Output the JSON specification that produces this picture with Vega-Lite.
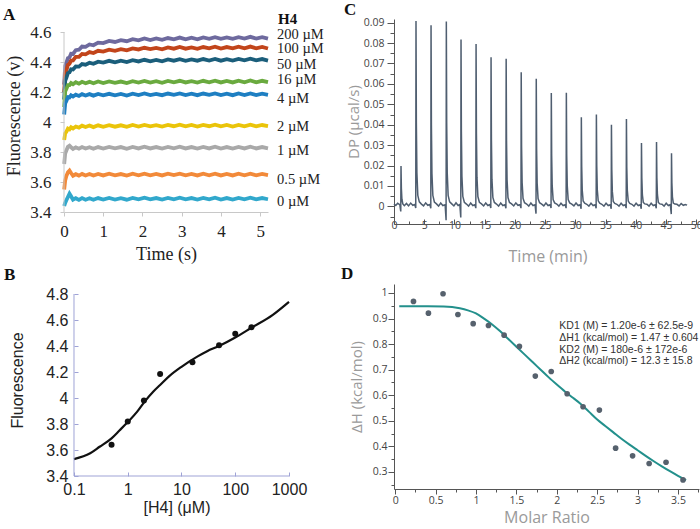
{
"$schema": "https://vega.github.io/schema/vega-lite/v6.json",
"background": "white",
"padding": {"left": 2, "top": 1, "right": 0, "bottom": 0},
"config": {"view": {"stroke": null}, "axis": {"grid": false, "labelFlush": false, "labelOverlap": false, "titleFontWeight": "normal", "tickCount": 1000}},
"columns": 2,
"spacing": {"row": 60, "column": 105},
"bounds": "flush",
"align": "each",
"datasets": {
"tr": [
{"s":"200","t":0.005,"v":4.25},{"s":"200","t":0.03,"v":4.374},{"s":"200","t":0.06,"v":4.395},{"s":"200","t":0.1,"v":4.426},{"s":"200","t":0.14,"v":4.431},{"s":"200","t":0.18,"v":4.455},{"s":"200","t":0.23,"v":4.454},{"s":"200","t":0.3,"v":4.479},{"s":"200","t":0.38,"v":4.482},{"s":"200","t":0.46,"v":4.503},{"s":"200","t":0.55,"v":4.501},{"s":"200","t":0.65,"v":4.517},{"s":"200","t":0.75,"v":4.512},{"s":"200","t":0.87,"v":4.529},{"s":"200","t":1.0,"v":4.526},{"s":"200","t":1.15,"v":4.541},{"s":"200","t":1.3,"v":4.534},{"s":"200","t":1.45,"v":4.546},{"s":"200","t":1.6,"v":4.539},{"s":"200","t":1.75,"v":4.552},{"s":"200","t":1.9,"v":4.545},{"s":"200","t":2.05,"v":4.557},{"s":"200","t":2.2,"v":4.547},{"s":"200","t":2.35,"v":4.557},{"s":"200","t":2.5,"v":4.548},{"s":"200","t":2.65,"v":4.56},{"s":"200","t":2.8,"v":4.552},{"s":"200","t":2.95,"v":4.563},{"s":"200","t":3.1,"v":4.552},{"s":"200","t":3.25,"v":4.562},{"s":"200","t":3.4,"v":4.552},{"s":"200","t":3.55,"v":4.564},{"s":"200","t":3.7,"v":4.555},{"s":"200","t":3.85,"v":4.566},{"s":"200","t":4.0,"v":4.555},{"s":"200","t":4.15,"v":4.564},{"s":"200","t":4.3,"v":4.555},{"s":"200","t":4.45,"v":4.566},{"s":"200","t":4.6,"v":4.557},{"s":"200","t":4.75,"v":4.568},{"s":"200","t":4.9,"v":4.557},{"s":"200","t":5.05,"v":4.566},{"s":"200","t":5.2,"v":4.556},
{"s":"100","t":0.005,"v":4.2},{"s":"100","t":0.03,"v":4.324},{"s":"100","t":0.06,"v":4.345},{"s":"100","t":0.1,"v":4.381},{"s":"100","t":0.14,"v":4.389},{"s":"100","t":0.18,"v":4.41},{"s":"100","t":0.23,"v":4.411},{"s":"100","t":0.3,"v":4.434},{"s":"100","t":0.38,"v":4.435},{"s":"100","t":0.46,"v":4.454},{"s":"100","t":0.55,"v":4.451},{"s":"100","t":0.65,"v":4.466},{"s":"100","t":0.75,"v":4.46},{"s":"100","t":0.87,"v":4.475},{"s":"100","t":1.0,"v":4.47},{"s":"100","t":1.15,"v":4.483},{"s":"100","t":1.3,"v":4.475},{"s":"100","t":1.45,"v":4.486},{"s":"100","t":1.6,"v":4.478},{"s":"100","t":1.75,"v":4.491},{"s":"100","t":1.9,"v":4.484},{"s":"100","t":2.05,"v":4.495},{"s":"100","t":2.2,"v":4.486},{"s":"100","t":2.35,"v":4.494},{"s":"100","t":2.5,"v":4.485},{"s":"100","t":2.65,"v":4.497},{"s":"100","t":2.8,"v":4.489},{"s":"100","t":2.95,"v":4.5},{"s":"100","t":3.1,"v":4.489},{"s":"100","t":3.25,"v":4.498},{"s":"100","t":3.4,"v":4.488},{"s":"100","t":3.55,"v":4.5},{"s":"100","t":3.7,"v":4.491},{"s":"100","t":3.85,"v":4.502},{"s":"100","t":4.0,"v":4.49},{"s":"100","t":4.15,"v":4.5},{"s":"100","t":4.3,"v":4.491},{"s":"100","t":4.45,"v":4.502},{"s":"100","t":4.6,"v":4.492},{"s":"100","t":4.75,"v":4.503},{"s":"100","t":4.9,"v":4.492},{"s":"100","t":5.05,"v":4.501},{"s":"100","t":5.2,"v":4.49},
{"s":"50","t":0.005,"v":4.15},{"s":"50","t":0.03,"v":4.275},{"s":"50","t":0.06,"v":4.295},{"s":"50","t":0.1,"v":4.326},{"s":"50","t":0.14,"v":4.331},{"s":"50","t":0.18,"v":4.352},{"s":"50","t":0.23,"v":4.35},{"s":"50","t":0.3,"v":4.37},{"s":"50","t":0.38,"v":4.369},{"s":"50","t":0.46,"v":4.386},{"s":"50","t":0.55,"v":4.382},{"s":"50","t":0.65,"v":4.395},{"s":"50","t":0.75,"v":4.388},{"s":"50","t":0.87,"v":4.402},{"s":"50","t":1.0,"v":4.396},{"s":"50","t":1.15,"v":4.408},{"s":"50","t":1.3,"v":4.398},{"s":"50","t":1.45,"v":4.409},{"s":"50","t":1.6,"v":4.4},{"s":"50","t":1.75,"v":4.412},{"s":"50","t":1.9,"v":4.404},{"s":"50","t":2.05,"v":4.415},{"s":"50","t":2.2,"v":4.405},{"s":"50","t":2.35,"v":4.414},{"s":"50","t":2.5,"v":4.405},{"s":"50","t":2.65,"v":4.417},{"s":"50","t":2.8,"v":4.409},{"s":"50","t":2.95,"v":4.419},{"s":"50","t":3.1,"v":4.408},{"s":"50","t":3.25,"v":4.418},{"s":"50","t":3.4,"v":4.409},{"s":"50","t":3.55,"v":4.42},{"s":"50","t":3.7,"v":4.41},{"s":"50","t":3.85,"v":4.421},{"s":"50","t":4.0,"v":4.409},{"s":"50","t":4.15,"v":4.419},{"s":"50","t":4.3,"v":4.41},{"s":"50","t":4.45,"v":4.421},{"s":"50","t":4.6,"v":4.411},{"s":"50","t":4.75,"v":4.422},{"s":"50","t":4.9,"v":4.411},{"s":"50","t":5.05,"v":4.42},{"s":"50","t":5.2,"v":4.41},
{"s":"16","t":0.005,"v":4.1},{"s":"16","t":0.03,"v":4.205},{"s":"16","t":0.06,"v":4.22},{"s":"16","t":0.1,"v":4.246},{"s":"16","t":0.14,"v":4.246},{"s":"16","t":0.18,"v":4.26},{"s":"16","t":0.23,"v":4.252},{"s":"16","t":0.3,"v":4.265},{"s":"16","t":0.38,"v":4.256},{"s":"16","t":0.46,"v":4.268},{"s":"16","t":0.55,"v":4.259},{"s":"16","t":0.65,"v":4.268},{"s":"16","t":0.75,"v":4.258},{"s":"16","t":0.87,"v":4.27},{"s":"16","t":1.0,"v":4.26},{"s":"16","t":1.15,"v":4.271},{"s":"16","t":1.3,"v":4.261},{"s":"16","t":1.45,"v":4.27},{"s":"16","t":1.6,"v":4.26},{"s":"16","t":1.75,"v":4.272},{"s":"16","t":1.9,"v":4.263},{"s":"16","t":2.05,"v":4.274},{"s":"16","t":2.2,"v":4.263},{"s":"16","t":2.35,"v":4.272},{"s":"16","t":2.5,"v":4.262},{"s":"16","t":2.65,"v":4.274},{"s":"16","t":2.8,"v":4.265},{"s":"16","t":2.95,"v":4.275},{"s":"16","t":3.1,"v":4.264},{"s":"16","t":3.25,"v":4.273},{"s":"16","t":3.4,"v":4.263},{"s":"16","t":3.55,"v":4.275},{"s":"16","t":3.7,"v":4.265},{"s":"16","t":3.85,"v":4.276},{"s":"16","t":4.0,"v":4.264},{"s":"16","t":4.15,"v":4.274},{"s":"16","t":4.3,"v":4.264},{"s":"16","t":4.45,"v":4.276},{"s":"16","t":4.6,"v":4.265},{"s":"16","t":4.75,"v":4.277},{"s":"16","t":4.9,"v":4.265},{"s":"16","t":5.05,"v":4.275},{"s":"16","t":5.2,"v":4.266},
{"s":"4","t":0.005,"v":4.05},{"s":"4","t":0.03,"v":4.124},{"s":"4","t":0.06,"v":4.14},{"s":"4","t":0.1,"v":4.166},{"s":"4","t":0.14,"v":4.164},{"s":"4","t":0.18,"v":4.178},{"s":"4","t":0.23,"v":4.17},{"s":"4","t":0.3,"v":4.182},{"s":"4","t":0.38,"v":4.174},{"s":"4","t":0.46,"v":4.186},{"s":"4","t":0.55,"v":4.177},{"s":"4","t":0.65,"v":4.186},{"s":"4","t":0.75,"v":4.176},{"s":"4","t":0.87,"v":4.187},{"s":"4","t":1.0,"v":4.178},{"s":"4","t":1.15,"v":4.188},{"s":"4","t":1.3,"v":4.178},{"s":"4","t":1.45,"v":4.187},{"s":"4","t":1.6,"v":4.177},{"s":"4","t":1.75,"v":4.189},{"s":"4","t":1.9,"v":4.18},{"s":"4","t":2.05,"v":4.19},{"s":"4","t":2.2,"v":4.18},{"s":"4","t":2.35,"v":4.188},{"s":"4","t":2.5,"v":4.179},{"s":"4","t":2.65,"v":4.19},{"s":"4","t":2.8,"v":4.181},{"s":"4","t":2.95,"v":4.191},{"s":"4","t":3.1,"v":4.18},{"s":"4","t":3.25,"v":4.189},{"s":"4","t":3.4,"v":4.179},{"s":"4","t":3.55,"v":4.19},{"s":"4","t":3.7,"v":4.181},{"s":"4","t":3.85,"v":4.191},{"s":"4","t":4.0,"v":4.18},{"s":"4","t":4.15,"v":4.189},{"s":"4","t":4.3,"v":4.179},{"s":"4","t":4.45,"v":4.19},{"s":"4","t":4.6,"v":4.18},{"s":"4","t":4.75,"v":4.191},{"s":"4","t":4.9,"v":4.18},{"s":"4","t":5.05,"v":4.189},{"s":"4","t":5.2,"v":4.181},
{"s":"2","t":0.005,"v":3.88},{"s":"2","t":0.03,"v":3.924},{"s":"2","t":0.06,"v":3.935},{"s":"2","t":0.1,"v":3.956},{"s":"2","t":0.14,"v":3.951},{"s":"2","t":0.18,"v":3.965},{"s":"2","t":0.23,"v":3.957},{"s":"2","t":0.3,"v":3.97},{"s":"2","t":0.38,"v":3.963},{"s":"2","t":0.46,"v":3.976},{"s":"2","t":0.55,"v":3.967},{"s":"2","t":0.65,"v":3.977},{"s":"2","t":0.75,"v":3.966},{"s":"2","t":0.87,"v":3.978},{"s":"2","t":1.0,"v":3.968},{"s":"2","t":1.15,"v":3.979},{"s":"2","t":1.3,"v":3.969},{"s":"2","t":1.45,"v":3.978},{"s":"2","t":1.6,"v":3.968},{"s":"2","t":1.75,"v":3.98},{"s":"2","t":1.9,"v":3.97},{"s":"2","t":2.05,"v":3.981},{"s":"2","t":2.2,"v":3.971},{"s":"2","t":2.35,"v":3.979},{"s":"2","t":2.5,"v":3.97},{"s":"2","t":2.65,"v":3.981},{"s":"2","t":2.8,"v":3.972},{"s":"2","t":2.95,"v":3.982},{"s":"2","t":3.1,"v":3.971},{"s":"2","t":3.25,"v":3.98},{"s":"2","t":3.4,"v":3.97},{"s":"2","t":3.55,"v":3.981},{"s":"2","t":3.7,"v":3.972},{"s":"2","t":3.85,"v":3.982},{"s":"2","t":4.0,"v":3.971},{"s":"2","t":4.15,"v":3.98},{"s":"2","t":4.3,"v":3.97},{"s":"2","t":4.45,"v":3.981},{"s":"2","t":4.6,"v":3.971},{"s":"2","t":4.75,"v":3.982},{"s":"2","t":4.9,"v":3.971},{"s":"2","t":5.05,"v":3.98},{"s":"2","t":5.2,"v":3.972},
{"s":"1","t":0.005,"v":3.72},{"s":"1","t":0.03,"v":3.79},{"s":"1","t":0.06,"v":3.81},{"s":"1","t":0.1,"v":3.835},{"s":"1","t":0.14,"v":3.842},{"s":"1","t":0.18,"v":3.832},{"s":"1","t":0.23,"v":3.821},{"s":"1","t":0.3,"v":3.831},{"s":"1","t":0.38,"v":3.822},{"s":"1","t":0.46,"v":3.833},{"s":"1","t":0.55,"v":3.823},{"s":"1","t":0.65,"v":3.832},{"s":"1","t":0.75,"v":3.822},{"s":"1","t":0.87,"v":3.833},{"s":"1","t":1.0,"v":3.823},{"s":"1","t":1.15,"v":3.834},{"s":"1","t":1.3,"v":3.824},{"s":"1","t":1.45,"v":3.833},{"s":"1","t":1.6,"v":3.822},{"s":"1","t":1.75,"v":3.834},{"s":"1","t":1.9,"v":3.824},{"s":"1","t":2.05,"v":3.835},{"s":"1","t":2.2,"v":3.824},{"s":"1","t":2.35,"v":3.833},{"s":"1","t":2.5,"v":3.823},{"s":"1","t":2.65,"v":3.834},{"s":"1","t":2.8,"v":3.825},{"s":"1","t":2.95,"v":3.835},{"s":"1","t":3.1,"v":3.824},{"s":"1","t":3.25,"v":3.833},{"s":"1","t":3.4,"v":3.823},{"s":"1","t":3.55,"v":3.834},{"s":"1","t":3.7,"v":3.824},{"s":"1","t":3.85,"v":3.835},{"s":"1","t":4.0,"v":3.823},{"s":"1","t":4.15,"v":3.833},{"s":"1","t":4.3,"v":3.823},{"s":"1","t":4.45,"v":3.834},{"s":"1","t":4.6,"v":3.824},{"s":"1","t":4.75,"v":3.835},{"s":"1","t":4.9,"v":3.824},{"s":"1","t":5.05,"v":3.833},{"s":"1","t":5.2,"v":3.825},
{"s":"0.5","t":0.005,"v":3.55},{"s":"0.5","t":0.03,"v":3.61},{"s":"0.5","t":0.06,"v":3.64},{"s":"0.5","t":0.1,"v":3.665},{"s":"0.5","t":0.14,"v":3.676},{"s":"0.5","t":0.18,"v":3.66},{"s":"0.5","t":0.23,"v":3.642},{"s":"0.5","t":0.3,"v":3.652},{"s":"0.5","t":0.38,"v":3.643},{"s":"0.5","t":0.46,"v":3.654},{"s":"0.5","t":0.55,"v":3.643},{"s":"0.5","t":0.65,"v":3.653},{"s":"0.5","t":0.75,"v":3.643},{"s":"0.5","t":0.87,"v":3.654},{"s":"0.5","t":1.0,"v":3.644},{"s":"0.5","t":1.15,"v":3.655},{"s":"0.5","t":1.3,"v":3.644},{"s":"0.5","t":1.45,"v":3.653},{"s":"0.5","t":1.6,"v":3.643},{"s":"0.5","t":1.75,"v":3.655},{"s":"0.5","t":1.9,"v":3.645},{"s":"0.5","t":2.05,"v":3.656},{"s":"0.5","t":2.2,"v":3.645},{"s":"0.5","t":2.35,"v":3.654},{"s":"0.5","t":2.5,"v":3.644},{"s":"0.5","t":2.65,"v":3.655},{"s":"0.5","t":2.8,"v":3.646},{"s":"0.5","t":2.95,"v":3.656},{"s":"0.5","t":3.1,"v":3.645},{"s":"0.5","t":3.25,"v":3.654},{"s":"0.5","t":3.4,"v":3.644},{"s":"0.5","t":3.55,"v":3.655},{"s":"0.5","t":3.7,"v":3.645},{"s":"0.5","t":3.85,"v":3.656},{"s":"0.5","t":4.0,"v":3.644},{"s":"0.5","t":4.15,"v":3.654},{"s":"0.5","t":4.3,"v":3.644},{"s":"0.5","t":4.45,"v":3.655},{"s":"0.5","t":4.6,"v":3.645},{"s":"0.5","t":4.75,"v":3.656},{"s":"0.5","t":4.9,"v":3.645},{"s":"0.5","t":5.05,"v":3.654},{"s":"0.5","t":5.2,"v":3.646},
{"s":"0","t":0.005,"v":3.44},{"s":"0","t":0.03,"v":3.46},{"s":"0","t":0.06,"v":3.478},{"s":"0","t":0.1,"v":3.5},{"s":"0","t":0.14,"v":3.522},{"s":"0","t":0.18,"v":3.505},{"s":"0","t":0.23,"v":3.482},{"s":"0","t":0.3,"v":3.492},{"s":"0","t":0.38,"v":3.481},{"s":"0","t":0.46,"v":3.493},{"s":"0","t":0.55,"v":3.482},{"s":"0","t":0.65,"v":3.492},{"s":"0","t":0.75,"v":3.482},{"s":"0","t":0.87,"v":3.493},{"s":"0","t":1.0,"v":3.483},{"s":"0","t":1.15,"v":3.494},{"s":"0","t":1.3,"v":3.483},{"s":"0","t":1.45,"v":3.492},{"s":"0","t":1.6,"v":3.482},{"s":"0","t":1.75,"v":3.494},{"s":"0","t":1.9,"v":3.484},{"s":"0","t":2.05,"v":3.495},{"s":"0","t":2.2,"v":3.484},{"s":"0","t":2.35,"v":3.493},{"s":"0","t":2.5,"v":3.483},{"s":"0","t":2.65,"v":3.494},{"s":"0","t":2.8,"v":3.485},{"s":"0","t":2.95,"v":3.495},{"s":"0","t":3.1,"v":3.484},{"s":"0","t":3.25,"v":3.493},{"s":"0","t":3.4,"v":3.483},{"s":"0","t":3.55,"v":3.494},{"s":"0","t":3.7,"v":3.484},{"s":"0","t":3.85,"v":3.495},{"s":"0","t":4.0,"v":3.483},{"s":"0","t":4.15,"v":3.493},{"s":"0","t":4.3,"v":3.483},{"s":"0","t":4.45,"v":3.494},{"s":"0","t":4.6,"v":3.484},{"s":"0","t":4.75,"v":3.495},{"s":"0","t":4.9,"v":3.484},{"s":"0","t":5.05,"v":3.493},{"s":"0","t":5.2,"v":3.485}
],
"lab": [
{"label":"200 µM","v":4.582},{"label":"100 µM","v":4.485},{"label":"50 µM","v":4.38},{"label":"16 µM","v":4.28},{"label":"4 µM","v":4.153},{"label":"2 µM","v":3.967},{"label":"1 µM","v":3.807},{"label":"0.5 µM","v":3.613},{"label":"0 µM","v":3.467}
],
"bpt": [
{"x":0.5,"y":3.64},{"x":1,"y":3.82},{"x":2,"y":3.98},{"x":4,"y":4.185},{"x":16,"y":4.275},{"x":50,"y":4.405},{"x":100,"y":4.495},{"x":200,"y":4.545}
],
"bfit": [
{"x":0.1,"y":3.53},{"x":0.2,"y":3.575},{"x":0.3,"y":3.625},{"x":0.5,"y":3.69},{"x":0.7,"y":3.75},{"x":1,"y":3.815},{"x":1.5,"y":3.895},{"x":2,"y":3.965},{"x":3,"y":4.05},{"x":4,"y":4.1},{"x":6,"y":4.17},{"x":10,"y":4.24},{"x":20,"y":4.32},{"x":30,"y":4.36},{"x":50,"y":4.4},{"x":100,"y":4.465},{"x":200,"y":4.54},{"x":500,"y":4.64},{"x":1000,"y":4.74}
],
"itc": [
{"t":0,"v":0.0012},{"t":0.3,"v":0.0004},{"t":0.6,"v":0.0015},{"t":0.96,"v":0.0008},
{"t":1.12,"v":-0.0025},{"t":1.16,"v":0.0197},{"t":1.22,"v":0.0089},{"t":1.31,"v":0.0035},{"t":1.46,"v":0.0012},{"t":1.71,"v":0.0003},{"t":2.06,"v":0.0014},{"t":2.41,"v":0.0002},{"t":2.76,"v":0.0016},{"t":3.11,"v":0.0005},{"t":3.44,"v":0.0009},
{"t":3.6,"v":-0.0008},{"t":3.64,"v":0.0908},{"t":3.7,"v":0.0409},{"t":3.79,"v":0.0163},{"t":3.94,"v":0.0054},{"t":4.19,"v":0.0022},{"t":4.54,"v":0.0011},{"t":4.89,"v":0.0002},{"t":5.24,"v":0.0017},{"t":5.59,"v":0.0005},{"t":5.93,"v":0.0009},
{"t":6.09,"v":-0.001},{"t":6.13,"v":0.0887},{"t":6.19,"v":0.0399},{"t":6.28,"v":0.016},{"t":6.43,"v":0.0053},{"t":6.68,"v":0.0021},{"t":7.03,"v":0.0012},{"t":7.38,"v":0.0001},{"t":7.73,"v":0.0016},{"t":8.08,"v":0.0004},{"t":8.46,"v":0.0008},
{"t":8.62,"v":-0.0068},{"t":8.66,"v":0.0906},{"t":8.72,"v":0.0408},{"t":8.81,"v":0.0163},{"t":8.96,"v":0.0054},{"t":9.21,"v":0.0022},{"t":9.56,"v":0.0012},{"t":9.91,"v":0.0002},{"t":10.26,"v":0.0017},{"t":10.61,"v":0.0004},{"t":10.89,"v":0.0009},
{"t":11.05,"v":-0.0055},{"t":11.09,"v":0.0818},{"t":11.15,"v":0.0368},{"t":11.24,"v":0.0147},{"t":11.39,"v":0.0049},{"t":11.64,"v":0.002},{"t":11.99,"v":0.0011},{"t":12.34,"v":0.0001},{"t":12.69,"v":0.0016},{"t":13.04,"v":0.0004},{"t":13.38,"v":0.0008},
{"t":13.54,"v":-0.0009},{"t":13.58,"v":0.0795},{"t":13.64,"v":0.0358},{"t":13.73,"v":0.0143},{"t":13.88,"v":0.0048},{"t":14.13,"v":0.002},{"t":14.48,"v":0.0012},{"t":14.83,"v":0.0002},{"t":15.18,"v":0.0016},{"t":15.53,"v":0.0004},{"t":15.86,"v":0.0009},
{"t":16.02,"v":-0.0008},{"t":16.06,"v":0.0731},{"t":16.12,"v":0.0329},{"t":16.21,"v":0.0132},{"t":16.36,"v":0.0044},{"t":16.61,"v":0.0019},{"t":16.96,"v":0.0011},{"t":17.31,"v":0.0001},{"t":17.66,"v":0.0016},{"t":18.01,"v":0.0004},{"t":18.36,"v":0.0008},
{"t":18.52,"v":-0.001},{"t":18.56,"v":0.0723},{"t":18.62,"v":0.0325},{"t":18.71,"v":0.013},{"t":18.86,"v":0.0043},{"t":19.11,"v":0.0019},{"t":19.46,"v":0.0012},{"t":19.81,"v":0.0002},{"t":20.16,"v":0.0017},{"t":20.51,"v":0.0005},{"t":20.85,"v":0.0008},
{"t":21.01,"v":-0.0009},{"t":21.05,"v":0.0657},{"t":21.11,"v":0.0296},{"t":21.2,"v":0.0118},{"t":21.35,"v":0.0039},{"t":21.6,"v":0.0018},{"t":21.95,"v":0.0011},{"t":22.3,"v":0.0001},{"t":22.65,"v":0.0016},{"t":23.0,"v":0.0004},{"t":23.34,"v":0.0008},
{"t":23.5,"v":-0.0036},{"t":23.54,"v":0.0625},{"t":23.6,"v":0.0281},{"t":23.69,"v":0.0113},{"t":23.84,"v":0.0038},{"t":24.09,"v":0.0018},{"t":24.44,"v":0.0011},{"t":24.79,"v":0.0002},{"t":25.14,"v":0.0016},{"t":25.49,"v":0.0004},{"t":25.83,"v":0.0008},
{"t":25.99,"v":-0.0008},{"t":26.03,"v":0.0555},{"t":26.09,"v":0.025},{"t":26.18,"v":0.01},{"t":26.33,"v":0.0033},{"t":26.58,"v":0.0017},{"t":26.93,"v":0.0011},{"t":27.28,"v":0.0001},{"t":27.63,"v":0.0015},{"t":27.98,"v":0.0004},{"t":28.32,"v":0.0008},
{"t":28.48,"v":-0.0009},{"t":28.52,"v":0.0557},{"t":28.58,"v":0.0251},{"t":28.67,"v":0.01},{"t":28.82,"v":0.0033},{"t":29.07,"v":0.0017},{"t":29.42,"v":0.0011},{"t":29.77,"v":0.0002},{"t":30.12,"v":0.0016},{"t":30.47,"v":0.0004},{"t":30.8,"v":0.0008},
{"t":30.96,"v":-0.0012},{"t":31.0,"v":0.0436},{"t":31.06,"v":0.0196},{"t":31.15,"v":0.0078},{"t":31.3,"v":0.0026},{"t":31.55,"v":0.0015},{"t":31.9,"v":0.001},{"t":32.25,"v":0.0001},{"t":32.6,"v":0.0015},{"t":32.95,"v":0.0004},{"t":33.29,"v":0.0008},
{"t":33.45,"v":-0.001},{"t":33.49,"v":0.045},{"t":33.55,"v":0.0203},{"t":33.64,"v":0.0081},{"t":33.79,"v":0.0027},{"t":34.04,"v":0.0015},{"t":34.39,"v":0.001},{"t":34.74,"v":0.0001},{"t":35.09,"v":0.0015},{"t":35.44,"v":0.0004},{"t":35.78,"v":0.0008},
{"t":35.94,"v":-0.0012},{"t":35.98,"v":0.04},{"t":36.04,"v":0.018},{"t":36.13,"v":0.0072},{"t":36.28,"v":0.0024},{"t":36.53,"v":0.0014},{"t":36.88,"v":0.001},{"t":37.23,"v":0.0001},{"t":37.58,"v":0.0015},{"t":37.93,"v":0.0004},{"t":38.26,"v":0.0008},
{"t":38.42,"v":-0.0009},{"t":38.46,"v":0.0428},{"t":38.52,"v":0.0193},{"t":38.61,"v":0.0077},{"t":38.76,"v":0.0026},{"t":39.01,"v":0.0014},{"t":39.36,"v":0.001},{"t":39.71,"v":0.0001},{"t":40.06,"v":0.0015},{"t":40.41,"v":0.0004},{"t":40.75,"v":0.0008},
{"t":40.91,"v":-0.0012},{"t":40.95,"v":0.031},{"t":41.01,"v":0.014},{"t":41.1,"v":0.0056},{"t":41.25,"v":0.0019},{"t":41.5,"v":0.0012},{"t":41.85,"v":0.001},{"t":42.2,"v":0.0001},{"t":42.55,"v":0.0015},{"t":42.9,"v":0.0004},{"t":43.24,"v":0.0008},
{"t":43.4,"v":-0.001},{"t":43.44,"v":0.0315},{"t":43.5,"v":0.0142},{"t":43.59,"v":0.0057},{"t":43.74,"v":0.0019},{"t":43.99,"v":0.0012},{"t":44.34,"v":0.001},{"t":44.69,"v":0.0001},{"t":45.04,"v":0.0015},{"t":45.39,"v":0.0004},{"t":45.72,"v":0.0008},
{"t":45.88,"v":-0.0038},{"t":45.92,"v":0.026},{"t":45.98,"v":0.0117},{"t":46.07,"v":0.0047},{"t":46.22,"v":0.0016},{"t":46.47,"v":0.0011},{"t":46.82,"v":0.001},{"t":47.17,"v":0.0002},{"t":47.52,"v":0.0014},{"t":47.87,"v":0.0005},{"t":48.2,"v":0.0009},{"t":48.5,"v":0.0006}
],
"dpt": [
{"x":0.226,"y":0.967},{"x":0.411,"y":0.921},{"x":0.592,"y":0.997},{"x":0.776,"y":0.916},{"x":0.965,"y":0.88},{"x":1.154,"y":0.873},{"x":1.348,"y":0.835},{"x":1.537,"y":0.791},{"x":1.734,"y":0.675},{"x":1.931,"y":0.693},{"x":2.128,"y":0.606},{"x":2.325,"y":0.555},{"x":2.527,"y":0.542},{"x":2.728,"y":0.393},{"x":2.938,"y":0.363},{"x":3.143,"y":0.333},{"x":3.352,"y":0.338},{"x":3.562,"y":0.269}
],
"dfit": [
{"x":0.05,"y":0.948},{"x":0.2,"y":0.948},{"x":0.4,"y":0.948},{"x":0.6,"y":0.947},{"x":0.8,"y":0.94},{"x":0.9,"y":0.932},{"x":1.0,"y":0.92},{"x":1.1,"y":0.9},{"x":1.2,"y":0.877},{"x":1.3,"y":0.85},{"x":1.4,"y":0.82},{"x":1.5,"y":0.79},{"x":1.6,"y":0.76},{"x":1.7,"y":0.73},{"x":1.8,"y":0.7},{"x":1.9,"y":0.67},{"x":2.0,"y":0.642},{"x":2.1,"y":0.615},{"x":2.2,"y":0.59},{"x":2.3,"y":0.565},{"x":2.4,"y":0.535},{"x":2.5,"y":0.505},{"x":2.6,"y":0.48},{"x":2.7,"y":0.455},{"x":2.8,"y":0.43},{"x":2.9,"y":0.407},{"x":3.0,"y":0.385},{"x":3.1,"y":0.363},{"x":3.2,"y":0.342},{"x":3.3,"y":0.322},{"x":3.4,"y":0.303},{"x":3.5,"y":0.285},{"x":3.6,"y":0.268}
]
},
"concat": [
{
"width": 204, "height": 193,
"layer": [
{"data": {"name": "tr"},
 "mark": {"type": "line", "strokeWidth": 3.8},
 "encoding": {
  "x": {"field": "t", "type": "quantitative", "scale": {"domain": [0, 5.2], "nice": false},
   "axis": {"values": [0,1,2,3,4,5], "format": "~g", "tickCount": 1000, "labelOverlap": false, "labelFlush": false, "domainColor": "#c8c8c8", "tickColor": "#c8c8c8", "tickSize": 4, "labelFont": "Liberation Serif", "labelFontSize": 17, "labelColor": "#222", "labelPadding": 7, "title": "Time (s)", "titleFont": "Liberation Serif", "titleFontSize": 18, "titleColor": "#222", "titlePadding": 6}},
  "y": {"field": "v", "type": "quantitative", "scale": {"domain": [3.4, 4.687], "nice": false, "zero": false},
   "axis": {"values": [3.4,3.6,3.8,4,4.2,4.4,4.6], "tickCount": 1000, "labelOverlap": false, "format": "~g", "domain": false, "tickColor": "#c8c8c8", "tickSize": 4, "labelFont": "Liberation Serif", "labelFontSize": 17, "labelColor": "#222", "labelPadding": 9, "title": "Fluorescence (v)", "titleFont": "Liberation Serif", "titleFontSize": 18, "titleColor": "#222", "titlePadding": 6}},
  "color": {"field": "s", "type": "nominal", "legend": null,
   "scale": {"domain": ["200","100","50","16","4","2","1","0.5","0"], "range": ["#6e6a9e","#c2451b","#1b5e7b","#6aaa3f","#1e7fc2","#eac40a","#a9a9a9","#f28a3a","#31a8cc"]}}
 }},
{"data": {"values": [{}]}, "mark": {"type": "rule", "color": "#c8c8c8"},
 "encoding": {"x": {"datum": 0}, "y": {"datum": 3.4}, "y2": {"datum": 4.6}}},
{"data": {"name": "lab"}, "mark": {"type": "text", "align": "left", "baseline": "middle", "font": "Liberation Serif", "fontSize": 14.5, "color": "#222"},
 "encoding": {"x": {"datum": 5.43}, "y": {"field": "v", "type": "quantitative"}, "text": {"field": "label"}}},
{"data": {"values": [{}]}, "mark": {"type": "text", "text": "H4", "align": "left", "baseline": "alphabetic", "font": "Liberation Serif", "fontSize": 15, "fontWeight": "bold", "color": "#111"},
 "encoding": {"x": {"datum": 5.455}, "y": {"datum": 4.652}}},
{"data": {"values": [{}]}, "mark": {"type": "text", "text": "A", "align": "left", "baseline": "alphabetic", "font": "Liberation Serif", "fontSize": 17, "fontWeight": "bold", "color": "#111"},
 "encoding": {"x": {"datum": -1.555}, "y": {"datum": 4.68}}}
]
},
{
"width": 307, "height": 205,
"layer": [
{"data": {"name": "itc"},
 "mark": {"type": "line", "strokeWidth": 1.5, "color": "#4f5e70"},
 "encoding": {
  "x": {"field": "t", "type": "quantitative", "scale": {"domain": [0, 50.8], "nice": false},
   "axis": {"values": [0,2.5,5,7.5,10,12.5,15,17.5,20,22.5,25,27.5,30,32.5,35,37.5,40,42.5,45,47.5,50], "tickCount": 1000, "format": "~g", "labelOverlap": false, "labelFlush": false,
    "labelExpr": "round(datum.value*10) % 50 == 0 ? datum.label : ''",
    "tickSize": {"condition": {"test": "round(datum.value*10) % 50 == 0", "value": -5}, "value": -3},
    "domainColor": "#555", "tickColor": "#555", "labelFont": "Open Sans", "labelFontSize": 10.5, "labelColor": "#444", "labelPadding": 1,
    "title": "Time (min)", "titleFont": "Open Sans", "titleFontSize": 16, "titleColor": "#9a9a9a", "titlePadding": 16}},
  "y": {"field": "v", "type": "quantitative", "scale": {"domain": [-0.00866, 0.0918], "nice": false, "zero": false},
   "axis": {"values": [-0.005,0,0.005,0.01,0.015,0.02,0.025,0.03,0.035,0.04,0.045,0.05,0.055,0.06,0.065,0.07,0.075,0.08,0.085,0.09], "tickCount": 1000, "format": "~g", "labelOverlap": false,
    "labelExpr": "round(datum.value*1000) % 10 == 0 ? datum.label : ''",
    "tickSize": {"condition": {"test": "round(datum.value*1000) % 10 == 0", "value": 7}, "value": 4},
    "domainColor": "#555", "tickColor": "#555", "labelFont": "Open Sans", "labelFontSize": 10.5, "labelColor": "#444", "labelPadding": 3,
    "title": "DP (μcal/s)", "titleFont": "Open Sans", "titleFontSize": 15, "titleColor": "#9a9a9a", "titlePadding": 2}}
 }},
{"data": {"values": [{}]}, "mark": {"type": "text", "text": "C", "align": "left", "baseline": "top", "font": "Liberation Serif", "fontSize": 17, "fontWeight": "bold", "color": "#111"},
 "encoding": {"x": {"datum": -8.27}, "y": {"datum": 0.1001}}}
]
},
{
"width": 225, "height": 192,
"layer": [
{"data": {"name": "bfit"},
 "mark": {"type": "line", "strokeWidth": 2.2, "color": "#111", "interpolate": "monotone"},
 "encoding": {
  "x": {"field": "x", "type": "quantitative", "scale": {"type": "log", "domain": [0.0652, 1000], "nice": false},
   "axis": {"values": [0.1,1,10,100,1000], "tickCount": 1000, "format": "~g", "labelOverlap": false, "labelFlush": false, "domain": false, "tickColor": "#9fa3d6", "tickSize": -4, "labelFont": "Liberation Sans", "labelFontSize": 16, "labelColor": "#222", "labelPadding": 9, "title": "[H4] (μM)", "titleFont": "Liberation Sans", "titleFontSize": 16, "titleColor": "#222", "titlePadding": 2}},
  "y": {"field": "y", "type": "quantitative", "scale": {"domain": [3.4, 4.877], "nice": false, "zero": false},
   "axis": {"values": [3.4,3.6,3.8,4,4.2,4.4,4.6,4.8], "tickCount": 1000, "format": "~g", "labelOverlap": false, "offset": -10, "domain": false, "tickColor": "#9fa3d6", "tickSize": -4, "labelFont": "Liberation Sans", "labelFontSize": 16, "labelColor": "#222", "labelPadding": 10, "title": "Fluorescence", "titleFont": "Liberation Sans", "titleFontSize": 16, "titleColor": "#222", "titlePadding": 20}}
 }},
{"data": {"name": "bpt"}, "mark": {"type": "circle", "size": 36, "color": "#111", "opacity": 1},
 "encoding": {"x": {"field": "x", "type": "quantitative"}, "y": {"field": "y", "type": "quantitative"}}},
{"data": {"values": [{}]}, "mark": {"type": "rule", "color": "#9fa3d6"},
 "encoding": {"x": {"datum": 0.1}, "y": {"datum": 3.4}, "y2": {"datum": 4.8}}},
{"data": {"values": [{}]}, "mark": {"type": "rule", "color": "#9fa3d6"},
 "encoding": {"y": {"datum": 3.4}, "x": {"datum": 0.1}, "x2": {"datum": 1000}}},
{"data": {"values": [{}]}, "mark": {"type": "text", "text": "B", "align": "left", "baseline": "alphabetic", "font": "Liberation Serif", "fontSize": 17, "fontWeight": "bold", "color": "#111"},
 "encoding": {"x": {"datum": 0.005}, "y": {"datum": 4.91}}}
]
},
{
"width": 305, "height": 205,
"layer": [
{"data": {"name": "dfit"},
 "mark": {"type": "line", "strokeWidth": 2, "color": "#23908c", "interpolate": "monotone"},
 "encoding": {
  "x": {"field": "x", "type": "quantitative", "scale": {"domain": [-0.015, 3.76], "nice": false, "zero": false},
   "axis": {"values": [0,0.25,0.5,0.75,1,1.25,1.5,1.75,2,2.25,2.5,2.75,3,3.25,3.5,3.75], "tickCount": 1000, "format": "~g", "labelOverlap": false, "labelFlush": false,
    "labelExpr": "round(datum.value*100) % 50 == 0 ? datum.label : ''",
    "tickSize": {"condition": {"test": "round(datum.value*100) % 50 == 0", "value": 5}, "value": 3},
    "domainColor": "#555", "tickColor": "#555", "labelFont": "Open Sans", "labelFontSize": 10.5, "labelColor": "#444", "labelPadding": 1.5,
    "title": "Molar Ratio", "titleFont": "Open Sans", "titleFontSize": 16, "titleColor": "#9a9a9a", "titlePadding": 3}},
  "y": {"field": "y", "type": "quantitative", "scale": {"domain": [0.2334, 1.0352], "nice": false, "zero": false},
   "axis": {"values": [0.25,0.3,0.35,0.4,0.45,0.5,0.55,0.6,0.65,0.7,0.75,0.8,0.85,0.9,0.95,1], "tickCount": 1000, "format": "~g", "labelOverlap": false,
    "labelExpr": "round(datum.value*100) % 10 == 0 ? datum.label : ''",
    "tickSize": {"condition": {"test": "round(datum.value*100) % 10 == 0", "value": 6}, "value": 3},
    "domainColor": "#555", "tickColor": "#555", "labelFont": "Open Sans", "labelFontSize": 10.5, "labelColor": "#444", "labelPadding": 1,
    "title": "ΔH (kcal/mol)", "titleFont": "Open Sans", "titleFontSize": 15, "titleColor": "#9a9a9a", "titlePadding": 8}}
 }},
{"data": {"name": "dpt"}, "mark": {"type": "circle", "size": 32, "color": "#56616d", "opacity": 1},
 "encoding": {"x": {"field": "x", "type": "quantitative"}, "y": {"field": "y", "type": "quantitative"}}},
{"data": {"values": [{}]}, "mark": {"type": "text", "text": ["KD1 (M) = 1.20e-6 ± 62.5e-9", "ΔH1 (kcal/mol) = 1.47 ± 0.604", "KD2 (M) = 180e-6 ± 172e-6", "ΔH2 (kcal/mol) = 12.3 ± 15.8"], "align": "left", "baseline": "middle", "font": "Liberation Sans", "fontSize": 10.5, "lineHeight": 11.9, "color": "#333"},
 "encoding": {"x": {"datum": 2.031}, "y": {"datum": 0.872}}},
{"data": {"values": [{}]}, "mark": {"type": "text", "text": "D", "align": "left", "baseline": "alphabetic", "font": "Liberation Serif", "fontSize": 17, "fontWeight": "bold", "color": "#111"},
 "encoding": {"x": {"datum": -0.671}, "y": {"datum": 1.0548}}}
]
}
]
}
